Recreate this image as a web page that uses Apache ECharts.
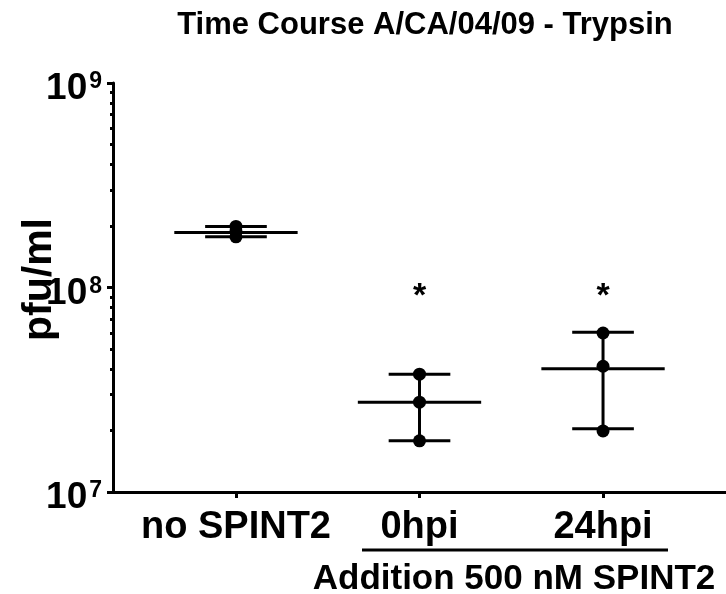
<!DOCTYPE html>
<html>
<head>
<meta charset="utf-8">
<script src="https://cdn.jsdelivr.net/npm/echarts@6/dist/echarts.min.js"></script>
<style>
html, body { margin: 0; padding: 0; background: #fff; }
#main { width: 726px; height: 594px; }
</style>
</head>
<body>
<div id="main"></div>
<script>
var categories = ['no SPINT2', '0hpi', '24hpi'];
// replicate values, pfu/ml
var noSpint2 = [1.99e8, 1.88e8, 1.77e8];
var hpi0 = [3.77e7, 2.75e7, 1.78e7];
var hpi24 = [5.99e7, 4.12e7, 1.99e7];
// mean line and mean +/- SD bars
var means = [1.86e8, 2.75e7, 4.01e7];
var sdLow = [1.77e8, 1.78e7, 2.04e7];
var sdHigh = [1.99e8, 3.77e7, 6.04e7];
// significance markers
var starLevel = [null, 9.5e7, 9.5e7];
var yMajor = [1e7, 1e8, 1e9];
var yMinor = [2e7, 3e7, 4e7, 5e7, 6e7, 7e7, 8e7, 9e7, 2e8, 3e8, 4e8, 5e8, 6e8, 7e8, 8e8, 9e8];
var xTicks = [0, 1, 2];

var font = 'Liberation Sans';
var myChart = echarts.init(document.getElementById('main'));

var points = [];
[noSpint2, hpi0, hpi24].forEach(function (arr, i) {
    arr.forEach(function (v) { points.push([i, v]); });
});
var barData = means.map(function (m, i) { return [i, m, sdLow[i], sdHigh[i]]; });
var starData = [];
starLevel.forEach(function (v, i) { if (v != null) starData.push([i, v]); });

var meanHalf = 0.336, capHalf = 0.168;

function hLine(api, x, y, half) {
    var a = api.coord([x - half, y]), b = api.coord([x + half, y]);
    return { type: 'line', shape: { x1: a[0], y1: a[1], x2: b[0], y2: b[1] },
        style: { stroke: '#000', lineWidth: 3 } };
}

var option = {
    animation: false,
    title: {
        text: 'Time Course A/CA/04/09 - Trypsin',
        left: 420,
        textAlign: 'center',
        top: 5,
        textStyle: { fontFamily: font, fontSize: 31, fontWeight: 'bold', color: '#000' }
    },
    grid: { left: 113, right: 0, top: 83, bottom: 102, outerBoundsMode: 'none' },
    xAxis: {
        type: 'value',
        min: -0.67,
        max: 2.67,
        splitLine: { show: false },
        axisLine: { onZero: false, lineStyle: { color: '#000', width: 3 } },
        axisTick: { customValues: xTicks, length: 6, lineStyle: { color: '#000', width: 3 } },
        axisLabel: {
            customValues: xTicks,
            formatter: function (v) { return categories[Math.round(v)]; },
            margin: 17,
            color: '#000',
            fontFamily: font,
            fontSize: 38,
            fontWeight: 'bold'
        }
    },
    yAxis: [{
        type: 'log',
        logBase: 10,
        min: 1e7,
        max: 1e9,
        name: 'pfu/ml',
        nameLocation: 'middle',
        nameGap: 53,
        nameMoveOverlap: false,
        nameTextStyle: { fontFamily: font, fontSize: 41, fontWeight: 'bold', color: '#000', padding: [0, 0, 0, 16] },
        splitLine: { show: false },
        axisLine: { show: true, onZero: false, lineStyle: { color: '#000', width: 3 } },
        axisTick: { customValues: yMajor, length: 6, lineStyle: { color: '#000', width: 3 } },
        axisLabel: {
            customValues: yMajor,
            margin: 11,
            padding: [12, 0, 0, 0],
            formatter: function (v) {
                return '{b|10}{s|' + Math.round(Math.log10(v)) + '}';
            },
            rich: {
                b: { fontFamily: font, fontSize: 37, fontWeight: 'bold', color: '#000', verticalAlign: 'top', lineHeight: 37 },
                s: { fontFamily: font, fontSize: 23, fontWeight: 'bold', color: '#000', verticalAlign: 'top', lineHeight: 23, padding: [0, 0, 0, 2] }
            }
        }
    }, {
        type: 'log',
        logBase: 10,
        min: 1e7,
        max: 1e9,
        position: 'left',
        splitLine: { show: false },
        axisLine: { show: false, onZero: false },
        axisLabel: { show: false },
        axisTick: { customValues: yMinor, length: 3, lineStyle: { color: '#000', width: 3 } }
    }],
    graphic: [{
        type: 'line',
        shape: { x1: 362, y1: 550, x2: 668, y2: 550 },
        style: { stroke: '#000', lineWidth: 3 }
    }, {
        type: 'text',
        x: 514,
        y: 579,
        style: {
            text: 'Addition 500 nM SPINT2',
            fill: '#000',
            font: 'bold 35px "Liberation Sans"',
            textAlign: 'center',
            textVerticalAlign: 'middle'
        }
    }],
    series: [{
        type: 'custom',
        data: barData,
        z: 2,
        renderItem: function (params, api) {
            var x = api.value(0);
            var lo = api.coord([x, api.value(2)]);
            var hi = api.coord([x, api.value(3)]);
            return {
                type: 'group',
                children: [
                    { type: 'line', shape: { x1: lo[0], y1: lo[1], x2: hi[0], y2: hi[1] },
                      style: { stroke: '#000', lineWidth: 3 } },
                    hLine(api, x, api.value(1), meanHalf),
                    hLine(api, x, api.value(2), capHalf),
                    hLine(api, x, api.value(3), capHalf)
                ]
            };
        }
    }, {
        type: 'scatter',
        data: points,
        symbolSize: 13,
        itemStyle: { color: '#000', opacity: 1 },
        z: 3
    }, {
        type: 'scatter',
        data: starData,
        symbolSize: 0,
        itemStyle: { color: '#000', opacity: 1 },
        label: {
            show: true,
            position: 'inside',
            offset: [0, 5],
            formatter: '*',
            color: '#000',
            fontFamily: font,
            fontSize: 34,
            fontWeight: 'bold'
        },
        z: 3
    }]
};
myChart.setOption(option);
</script>
</body>
</html>
